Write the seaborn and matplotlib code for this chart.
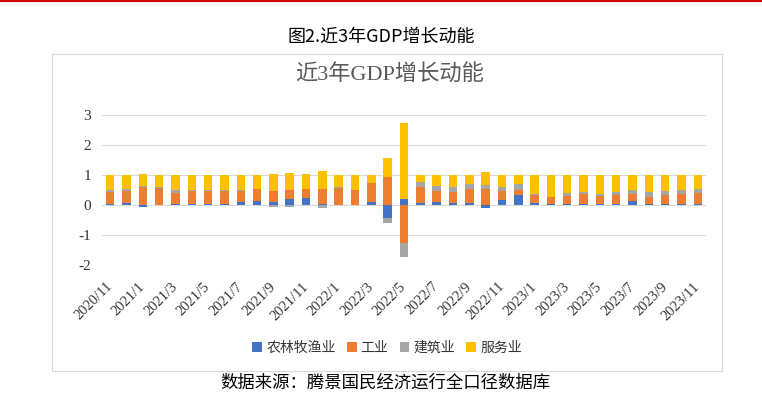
import numpy as np
import matplotlib
matplotlib.use("Agg")
import matplotlib.pyplot as plt
import seaborn as sns
from matplotlib.patches import Rectangle, Patch
from matplotlib.lines import Line2D

# ---------------- data ----------------
months = ["2020/11", "2020/12",
          "2021/1", "2021/2", "2021/3", "2021/4", "2021/5", "2021/6",
          "2021/7", "2021/8", "2021/9", "2021/10", "2021/11", "2021/12",
          "2022/1", "2022/2", "2022/3", "2022/4", "2022/5", "2022/6",
          "2022/7", "2022/8", "2022/9", "2022/10", "2022/11", "2022/12",
          "2023/1", "2023/2", "2023/3", "2023/4", "2023/5", "2023/6",
          "2023/7", "2023/8", "2023/9", "2023/10", "2023/11"]

agri = [0.05, 0.07, -0.05, 0.01, 0.05, 0.05, 0.04, 0.04, 0.10, 0.15, 0.11, 0.20,
        0.25, 0.02, 0.01, 0.00, 0.09, -0.44, 0.19, 0.06, 0.10, 0.08, 0.06, -0.09,
        0.18, 0.32, 0.06, 0.02, 0.02, 0.05, 0.02, 0.04, 0.14, 0.02, 0.04, 0.02, 0.05]
industry = [0.38, 0.40, 0.60, 0.55, 0.36, 0.42, 0.44, 0.44, 0.38, 0.37, 0.37, 0.30,
            0.30, 0.53, 0.57, 0.50, 0.63, 0.94, -1.28, 0.53, 0.37, 0.37, 0.49, 0.53,
            0.28, 0.19, 0.28, 0.26, 0.28, 0.31, 0.28, 0.28, 0.24, 0.26, 0.31, 0.35, 0.36]
construction = [0.08, 0.08, 0.02, 0.03, 0.10, 0.02, 0.02, 0.02, 0.02, 0.03, -0.05, -0.06,
                0.00, -0.11, 0.01, 0.01, 0.01, -0.15, -0.46, 0.19, 0.15, 0.15, 0.15, 0.13,
                0.14, 0.19, 0.03, 0.00, 0.09, 0.08, 0.07, 0.11, 0.11, 0.17, 0.13, 0.13, 0.14]
services = [0.49, 0.45, 0.43, 0.41, 0.49, 0.51, 0.50, 0.50, 0.50, 0.45, 0.55, 0.58,
            0.48, 0.57, 0.41, 0.49, 0.27, 0.63, 2.53, 0.22, 0.38, 0.40, 0.30, 0.45,
            0.40, 0.30, 0.63, 0.72, 0.61, 0.56, 0.63, 0.57, 0.51, 0.55, 0.52, 0.50, 0.45]

series_names = ["农林牧渔业", "工业", "建筑业", "服务业"]
colors = ["#4472C4", "#ED7D31", "#A5A5A5", "#FFC000"]
yticks = [-2, -1, 0, 1, 2, 3]
xtick_labels = months[::2]

outer_title = "图2.近3年GDP增长动能"
inner_title = "近3年GDP增长动能"
footer = "数据来源：腾景国民经济运行全口径数据库"

# ---------------- style ----------------
sns.set_style("white")
plt.rcParams["font.family"] = ["Noto Sans CJK SC", "DejaVu Sans"]
plt.rcParams["axes.unicode_minus"] = False

W, H = 762, 393
fig = plt.figure(figsize=(W / 100, H / 100), dpi=100)
ax = fig.add_axes([102 / W, 1 - 265 / H, (706 - 102) / W, 150 / H])

pos = np.zeros(len(months))
neg = np.zeros(len(months))
for name, vals, c in zip(series_names, [agri, industry, construction, services], colors):
    v = np.array(vals, dtype=float)
    bottom = np.where(v >= 0, pos, neg)
    sns.barplot(x=months, y=v, bottom=bottom, color=c, saturation=1, width=0.52,
                errorbar=None, ax=ax, zorder=3, linewidth=0)
    pos = pos + np.where(v > 0, v, 0)
    neg = neg + np.where(v < 0, v, 0)

ax.set_xlim(-0.5, len(months) - 0.5)
ax.set_ylim(-2, 3)
ax.set_axisbelow(True)
ax.yaxis.grid(True, color="#D9D9D9", linewidth=0.8)
ax.xaxis.grid(False)
for s in ax.spines.values():
    s.set_visible(False)
ax.set_xlabel("")
ax.set_ylabel("")

ax.set_yticks(yticks)
ax.set_yticklabels([str(t) for t in yticks], fontfamily="Liberation Serif",
                   fontsize=11, color="#333333")
ax.set_xticks(range(0, len(months), 2))
ax.set_xticklabels(xtick_labels, rotation=45, ha="right", va="center",
                   rotation_mode="anchor", fontfamily="Liberation Serif",
                   fontsize=10.5, color="#333333")
ax.tick_params(axis="y", length=0, pad=8)
ax.tick_params(axis="x", length=0, pad=14)

# legend
handles = [Patch(facecolor=c, edgecolor="none") for c in colors]
fig.legend(handles, series_names, loc="center", bbox_to_anchor=(0.508, 1 - 348 / H),
           ncol=4, frameon=False, handlelength=0.7, handleheight=0.7,
           handletextpad=0.3, columnspacing=0.8,
           prop={"family": "Noto Sans CJK SC", "size": 10}, labelcolor="#333333")

# chart frame
fig.patches.append(Rectangle((52 / W, 1 - 371 / H), (722 - 52) / W, (371 - 54) / H,
                             transform=fig.transFigure, fill=False,
                             edgecolor="#D9D9D9", linewidth=0.8))
# red line at top
fig.add_artist(Line2D([0, 1], [1 - 1 / H, 1 - 1 / H], transform=fig.transFigure,
                      color="#D00000", linewidth=1.6))

fig.text(0.5, 1 - 37 / H, outer_title, ha="center", va="center", fontsize=13,
         family=["Noto Sans CJK SC", "DejaVu Sans"], color="black")
fig.text(390 / W, 1 - 75 / H, inner_title, ha="center", va="center", fontsize=16,
         family=["Liberation Serif", "Noto Sans CJK SC"], color="#595959")
fig.text(385 / W, 1 - 392 / H, footer, ha="center", va="bottom", fontsize=12.5,
         family=["Noto Sans CJK SC", "DejaVu Sans"], color="black")

fig.savefig("out.png", dpi=100)
